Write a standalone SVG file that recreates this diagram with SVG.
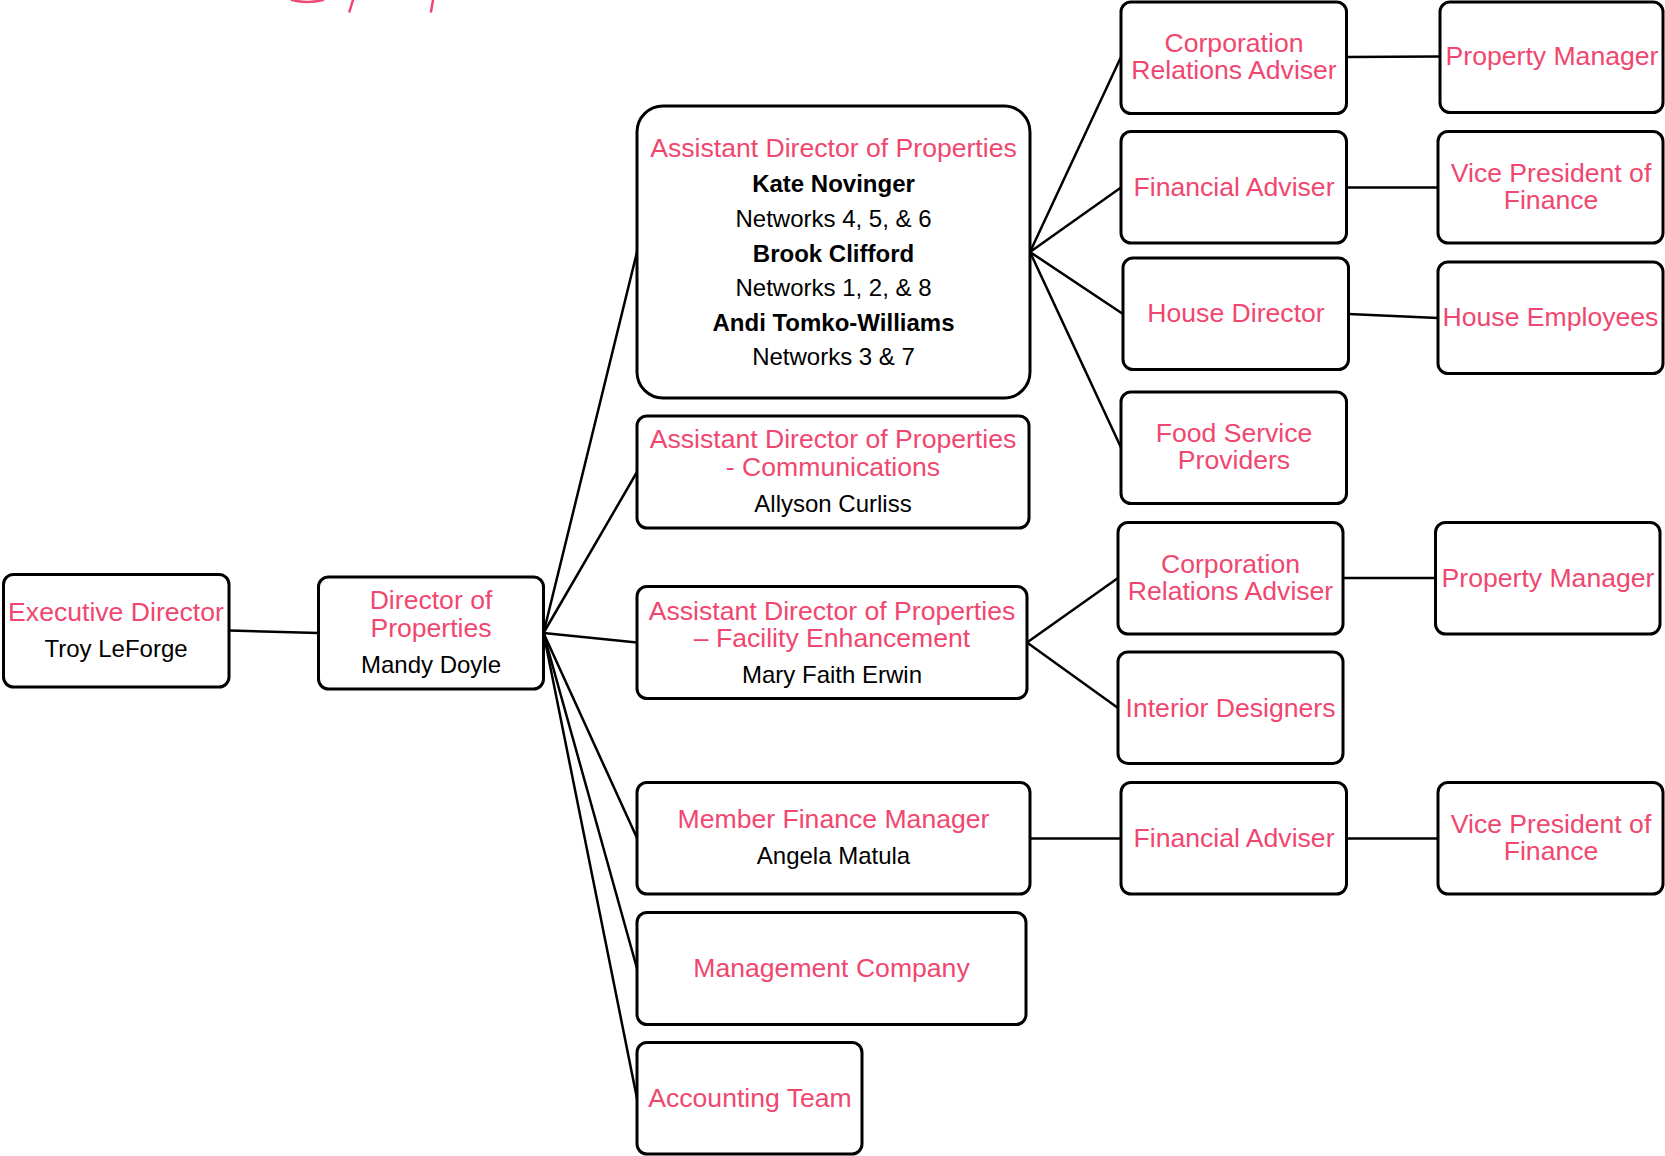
<svg xmlns="http://www.w3.org/2000/svg" width="1665" height="1156" viewBox="0 0 1665 1156">
  <style>
    .box { fill: #ffffff; stroke: #000000; stroke-width: 3; }
    .t { font-family: "Liberation Sans", Arial, sans-serif; font-size: 26.6px; fill: #F04770; text-anchor: middle; }
    .n { font-family: "Liberation Sans", Arial, sans-serif; font-size: 24px; fill: #000000; text-anchor: middle; }
    .b { font-weight: bold; }
    .conn line { stroke: #000000; stroke-width: 2.5; stroke-linecap: round; }
    .deco { fill: none; stroke: #F04770; stroke-width: 2.5; stroke-linecap: round; }
  </style>
  <rect x="0" y="0" width="1665" height="1156" fill="#ffffff"/>

  <g id="title-fragment">
    <path class="deco" d="M292,0 Q307,4 323,0"/>
    <path class="deco" d="M353,0 L349.5,11.5"/>
    <path class="deco" d="M433,0 L431,11.5"/>
  </g>

  <g id="connectors" class="conn">
    <line x1="229" y1="630.5" x2="318.5" y2="633"/>
    <line x1="543.5" y1="633" x2="637" y2="252"/>
    <line x1="543.5" y1="633" x2="637" y2="472"/>
    <line x1="543.5" y1="633" x2="637" y2="642.5"/>
    <line x1="543.5" y1="633" x2="637" y2="838"/>
    <line x1="543.5" y1="633" x2="637" y2="968.5"/>
    <line x1="543.5" y1="633" x2="637" y2="1098.5"/>
    <line x1="1030" y1="252" x2="1121" y2="57"/>
    <line x1="1030" y1="252" x2="1121" y2="187.5"/>
    <line x1="1030" y1="252" x2="1123" y2="314"/>
    <line x1="1030" y1="252" x2="1121" y2="447.5"/>
    <line x1="1346.5" y1="57" x2="1440" y2="56.5"/>
    <line x1="1346.5" y1="187.5" x2="1438" y2="187.5"/>
    <line x1="1348.5" y1="314" x2="1438" y2="318"/>
    <line x1="1027" y1="642.5" x2="1118" y2="578"/>
    <line x1="1027" y1="642.5" x2="1118" y2="708"/>
    <line x1="1343" y1="578" x2="1435.5" y2="578"/>
    <line x1="1030" y1="838.5" x2="1121" y2="838.5"/>
    <line x1="1346.5" y1="838.5" x2="1438" y2="838.5"/>
  </g>

  <g id="exec-director">
    <rect class="box" x="3.5" y="574.5" width="225.5" height="112.5" rx="10"/>
    <text class="t" x="116" y="621">Executive Director</text>
    <text class="n" x="116" y="657">Troy LeForge</text>
  </g>

  <g id="director-properties">
    <rect class="box" x="318.5" y="577" width="225" height="112" rx="10"/>
    <text class="t" x="431" y="609">Director of</text>
    <text class="t" x="431" y="637">Properties</text>
    <text class="n" x="431" y="673">Mandy Doyle</text>
  </g>

  <g id="adp">
    <rect class="box" x="637" y="106" width="393" height="292" rx="26"/>
    <text class="t" x="833.5" y="157">Assistant Director of Properties</text>
    <text class="n b" x="833.5" y="192">Kate Novinger</text>
    <text class="n" x="833.5" y="227">Networks 4, 5, &amp; 6</text>
    <text class="n b" x="833.5" y="262">Brook Clifford</text>
    <text class="n" x="833.5" y="296">Networks 1, 2, &amp; 8</text>
    <text class="n b" x="833.5" y="331">Andi Tomko-Williams</text>
    <text class="n" x="833.5" y="365">Networks 3 &amp; 7</text>
  </g>

  <g id="adp-communications">
    <rect class="box" x="637" y="416" width="392" height="112" rx="10"/>
    <text class="t" x="833" y="448">Assistant Director of Properties</text>
    <text class="t" x="833" y="476">- Communications</text>
    <text class="n" x="833" y="512">Allyson Curliss</text>
  </g>

  <g id="adp-facility">
    <rect class="box" x="637" y="586.5" width="390" height="112" rx="10"/>
    <text class="t" x="832" y="620">Assistant Director of Properties</text>
    <text class="t" x="832" y="647">– Facility Enhancement</text>
    <text class="n" x="832" y="683">Mary Faith Erwin</text>
  </g>

  <g id="member-finance-manager">
    <rect class="box" x="637" y="782.5" width="393" height="111.5" rx="10"/>
    <text class="t" x="833.5" y="828">Member Finance Manager</text>
    <text class="n" x="833.5" y="864">Angela Matula</text>
  </g>

  <g id="management-company">
    <rect class="box" x="637" y="912.5" width="389" height="112" rx="10"/>
    <text class="t" x="831.5" y="977">Management Company</text>
  </g>

  <g id="accounting-team">
    <rect class="box" x="637" y="1042.5" width="225" height="111.5" rx="10"/>
    <text class="t" x="750" y="1107">Accounting Team</text>
  </g>

  <g id="cra-1">
    <rect class="box" x="1121" y="2" width="225.5" height="111.5" rx="10"/>
    <text class="t" x="1234" y="52">Corporation</text>
    <text class="t" x="1234" y="79">Relations Adviser</text>
  </g>

  <g id="property-manager-1">
    <rect class="box" x="1440" y="2" width="223" height="110.5" rx="10"/>
    <text class="t" x="1552" y="65">Property Manager</text>
  </g>

  <g id="financial-adviser-1">
    <rect class="box" x="1121" y="131.5" width="225.5" height="111.5" rx="10"/>
    <text class="t" x="1234" y="196">Financial Adviser</text>
  </g>

  <g id="vp-finance-1">
    <rect class="box" x="1438" y="131.5" width="225" height="111.5" rx="10"/>
    <text class="t" x="1551" y="182">Vice President of</text>
    <text class="t" x="1551" y="209">Finance</text>
  </g>

  <g id="house-director">
    <rect class="box" x="1123" y="258" width="225.5" height="111.5" rx="10"/>
    <text class="t" x="1236" y="322">House Director</text>
  </g>

  <g id="house-employees">
    <rect class="box" x="1438" y="262" width="225" height="111.5" rx="10"/>
    <text class="t" x="1550.5" y="326">House Employees</text>
  </g>

  <g id="food-service-providers">
    <rect class="box" x="1121" y="392" width="225.5" height="111.5" rx="10"/>
    <text class="t" x="1234" y="442">Food Service</text>
    <text class="t" x="1234" y="469">Providers</text>
  </g>

  <g id="cra-2">
    <rect class="box" x="1118" y="522.5" width="225" height="111.5" rx="10"/>
    <text class="t" x="1230.5" y="573">Corporation</text>
    <text class="t" x="1230.5" y="600">Relations Adviser</text>
  </g>

  <g id="property-manager-2">
    <rect class="box" x="1435.5" y="522.5" width="224.5" height="111.5" rx="10"/>
    <text class="t" x="1548" y="587">Property Manager</text>
  </g>

  <g id="interior-designers">
    <rect class="box" x="1118" y="652" width="225" height="111.5" rx="10"/>
    <text class="t" x="1230.5" y="717">Interior Designers</text>
  </g>

  <g id="financial-adviser-2">
    <rect class="box" x="1121" y="782.5" width="225.5" height="111.5" rx="10"/>
    <text class="t" x="1234" y="847">Financial Adviser</text>
  </g>

  <g id="vp-finance-2">
    <rect class="box" x="1438" y="782.5" width="225" height="111.5" rx="10"/>
    <text class="t" x="1551" y="833">Vice President of</text>
    <text class="t" x="1551" y="860">Finance</text>
  </g>
</svg>
